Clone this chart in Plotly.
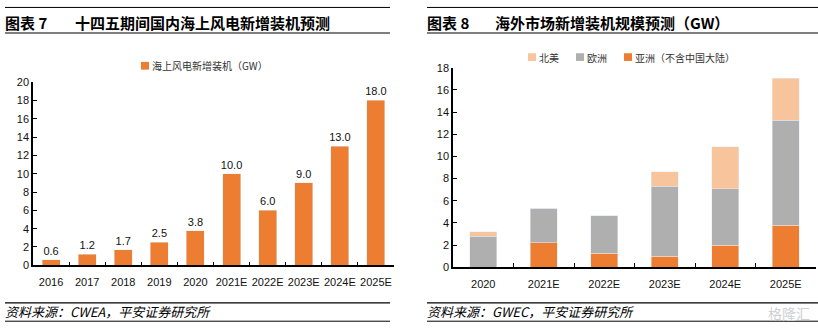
import plotly.graph_objects as go

# ---- data ----
years_l = ["2016", "2017", "2018", "2019", "2020", "2021E", "2022E", "2023E", "2024E", "2025E"]
china_offshore = [0.6, 1.2, 1.7, 2.5, 3.8, 10.0, 6.0, 9.0, 13.0, 18.0]

years_r = ["2020", "2021E", "2022E", "2023E", "2024E", "2025E"]
asia_ex_china = [0.0, 2.2, 1.25, 1.0, 2.0, 3.8]
europe = [2.8, 3.1, 3.4, 6.3, 5.1, 9.45]
north_america = [0.4, 0.0, 0.0, 1.3, 3.75, 3.8]

W, H = 818, 333
ORANGE = "#ED7D31"
GRAY = "#AFAFAF"
PEACH = "#F8C49C"
FONT = "Liberation Sans, Noto Sans CJK SC, sans-serif"
CJK = "Noto Sans CJK SC, sans-serif"

def px(x):
    return x / W

def py(y):
    return 1 - y / H

fig = go.Figure()

fig.add_trace(go.Bar(
    x=years_l, y=china_offshore, marker_color=ORANGE, name="海上风电新增装机（GW）",
    texttemplate="%{y:.1f}", textposition="outside", cliponaxis=False, constraintext="none",
    textfont=dict(size=11, color="#111", family=FONT),
    xaxis="x", yaxis="y", showlegend=False,
))

fig.add_trace(go.Bar(x=years_r, y=asia_ex_china, marker_color=ORANGE, name="亚洲（不含中国大陆）",
                     xaxis="x2", yaxis="y2", showlegend=False))
fig.add_trace(go.Bar(x=years_r, y=europe, marker_color=GRAY, name="欧洲",
                     xaxis="x2", yaxis="y2", showlegend=False))
fig.add_trace(go.Bar(x=years_r, y=north_america, marker_color=PEACH, name="北美",
                     xaxis="x2", yaxis="y2", showlegend=False))

axis_common = dict(showline=True, linecolor="black", linewidth=1.5, ticks="inside",
                   tickcolor="black", ticklen=4, showgrid=False, zeroline=False,
                   tickfont=dict(size=11, color="#111", family=FONT))

fig.update_layout(
    width=W, height=H, margin=dict(l=0, r=0, t=0, b=0),
    paper_bgcolor="white", plot_bgcolor="white",
    barmode="stack", bargap=0.5,
    xaxis=dict(domain=[px(33), px(394)], anchor="y", tickson="boundaries", tickangle=0,
               ticklabelstandoff=6, **axis_common),
    yaxis=dict(domain=[py(269), py(79)], anchor="x", range=[0, 20], dtick=2, **axis_common),
    xaxis2=dict(domain=[px(453), px(816)], anchor="y2", tickson="boundaries", tickangle=0,
                ticklabelstandoff=6, **axis_common),
    yaxis2=dict(domain=[py(271), py(64)], anchor="x2", range=[0, 18], dtick=2, **axis_common),
)

shapes = []
annotations = []

# title and source lines
for x0, x1 in [(5, 390), (427, 818)]:
    shapes.append(dict(type="line", xref="paper", yref="paper", x0=px(x0), x1=px(x1),
                       y0=py(1.5), y1=py(1.5), line=dict(color="black", width=1)))
    shapes.append(dict(type="line", xref="paper", yref="paper", x0=px(x0), x1=px(x1),
                       y0=py(28), y1=py(28), line=dict(color="black", width=1.2)))
    shapes.append(dict(type="line", xref="paper", yref="paper", x0=px(x0), x1=px(x1),
                       y0=py(308), y1=py(308), line=dict(color="black", width=1.2)))
    shapes.append(dict(type="line", xref="paper", yref="paper", x0=px(x0), x1=px(x1),
                       y0=py(327), y1=py(327), line=dict(color="black", width=1)))

def text(x, y, s, size, bold=False, italic=False, color="black", family=CJK, anchor="left"):
    if bold:
        s = "<b>" + s + "</b>"
    if italic:
        s = "<i>" + s + "</i>"
    annotations.append(dict(x=px(x), y=py(y), xref="paper", yref="paper", text=s,
                            showarrow=False, xanchor=anchor, yanchor="middle",
                            font=dict(size=size, color=color, family=family)))

text(3, 17, "图表 7", 15, bold=True)
text(73, 17, "十四五期间国内海上风电新增装机预测", 15, bold=True)
text(425, 17, "图表 8", 15, bold=True)
text(493, 17, "海外市场新增装机规模预测（GW）", 15, bold=True)

text(3, 317, "资料来源：CWEA，平安证券研究所", 13, italic=True)
text(425, 317, "资料来源：GWEC，平安证券研究所", 13, italic=True)

# legends
def legend_item(x, y, color, label):
    shapes.append(dict(type="rect", xref="paper", yref="paper", x0=px(x), x1=px(x + 8),
                       y0=py(y + 4), y1=py(y - 4), fillcolor=color, line=dict(width=0)))
    text(x + 9, y, label, 10, color="#333")

legend_item(141, 62, ORANGE, "海上风电新增装机（GW）")
legend_item(528, 53, PEACH, "北美")
legend_item(576, 53, GRAY, "欧洲")
legend_item(624, 53, ORANGE, "亚洲（不含中国大陆）")

# watermark
text(812, 318, "格隆汇", 14, color="#D0D0D0", anchor="right")

fig.update_layout(shapes=shapes, annotations=annotations)
fig.update_traces(selector=dict(xaxis="x2"), width=0.45)

fig.write_html("out.html")
